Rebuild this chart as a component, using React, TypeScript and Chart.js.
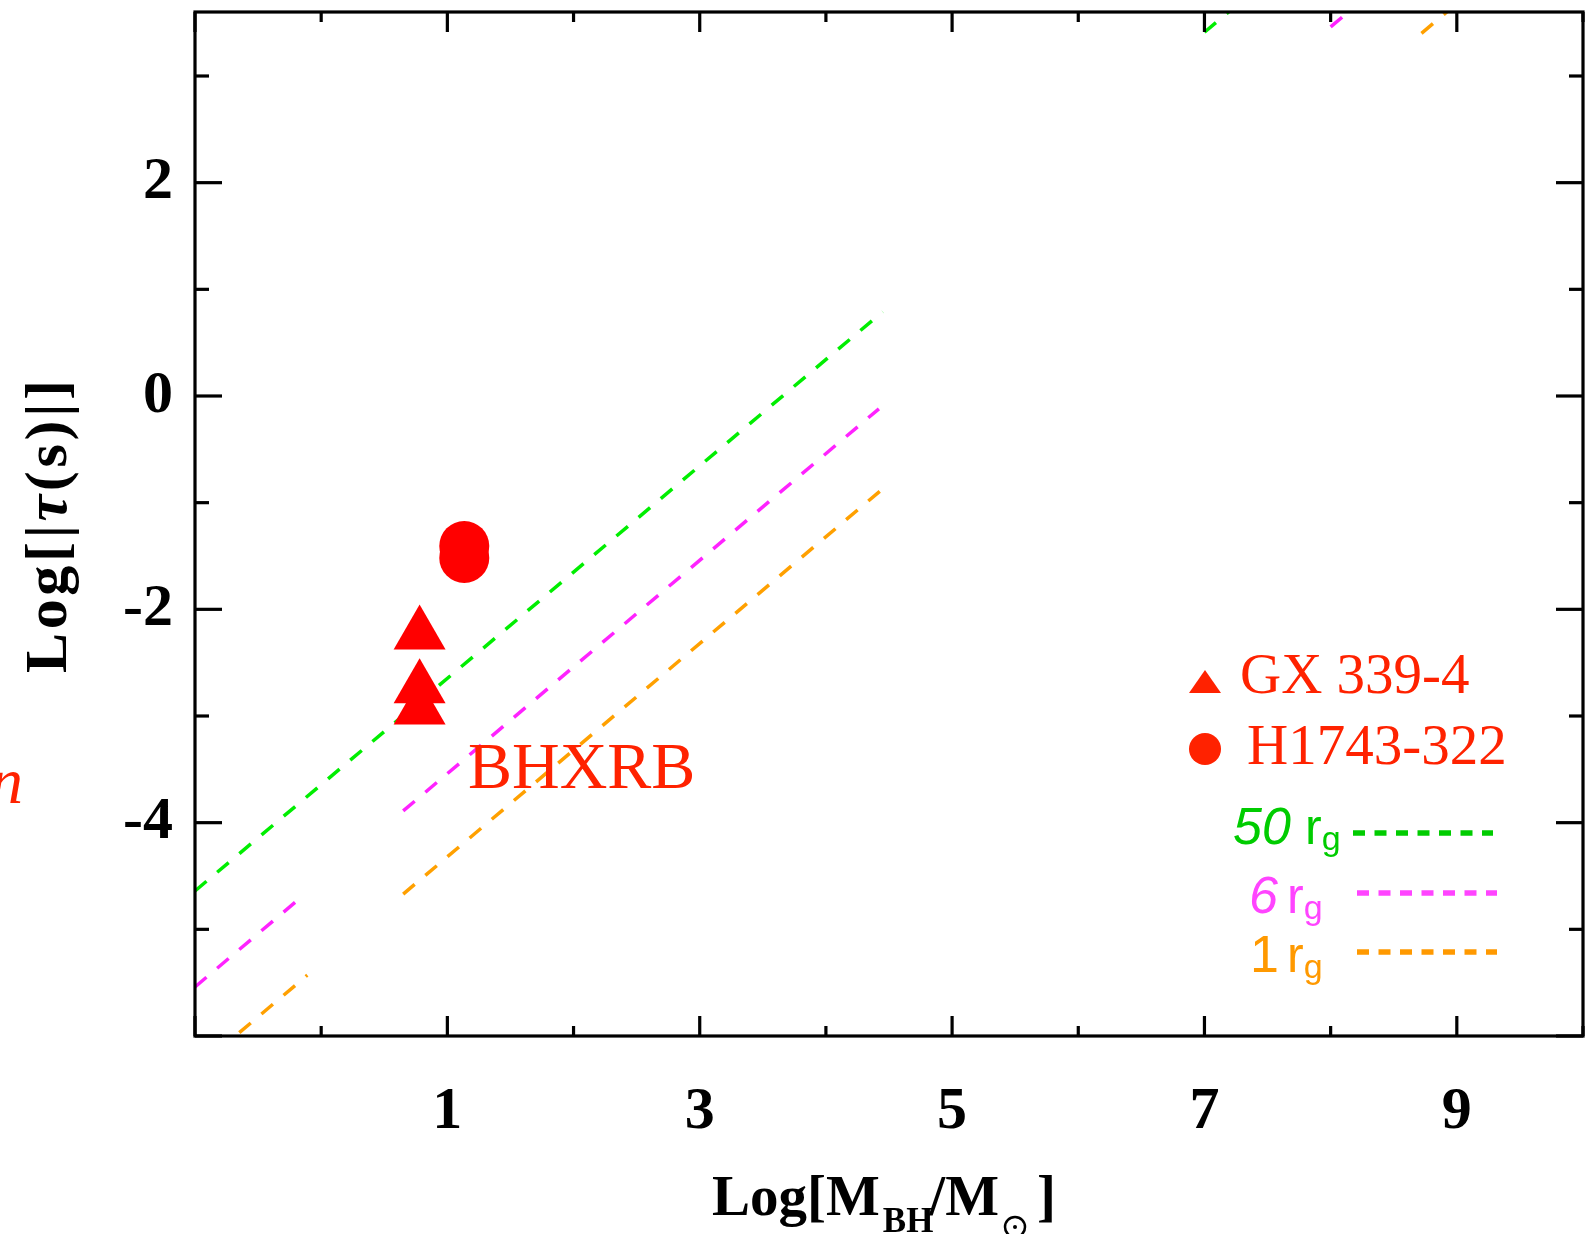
import { useEffect, useRef } from "react";
import { Chart, registerables } from "chart.js";

Chart.register(...registerables);

// Axis ranges and labelled ticks
const xRange = [-1, 10];
const yRange = [-6, 3.6];
const xTickLabels = [1, 3, 5, 7, 9];
const yTickLabels = [2, 0, -2, -4];

// GX 339-4 (triangles)
const gxMass = [0.78, 0.78, 0.78];
const gxTau = [-2.235, -2.74, -2.94];

// H1743-322 (circles)
const hMass = [1.134, 1.134];
const hTau = [-1.406, -1.518];

// Light-crossing time lines for 50, 6 and 1 gravitational radii (null = gap)
const rg50Mass = [-1, 4.45, 5.7, 7.0, 7.3];
const rg50Tau = [-4.64, 0.79, null, 3.41, 3.71];
const rg6Mass = [-1, -0.2, 0.2, 0.65, 4.42, 6.2, 8.0, 8.3];
const rg6Tau = [-5.54, -4.74, null, -3.89, -0.12, null, 3.46, 3.76];
const rg1Mass = [-1, -0.11, 0.3, 0.65, 4.45, 6.6, 8.72, 9.02];
const rg1Tau = [-6.32, -5.43, null, -4.67, -0.87, null, 3.4, 3.7];

const SERIF = '"Liberation Serif", "Times New Roman", serif';
const SANS = '"Liberation Sans", Arial, sans-serif';
const RED_TEXT = "#ff2200";
const GREEN = "#00ee00";
const MAGENTA = "#ff22ff";
const ORANGE = "#ffa000";

const zip = (xs: number[], ys: (number | null)[]) => xs.map((x, i) => ({ x, y: ys[i] }));

const framePlugin = {
  id: "frameTicks",
  afterDatasetsDraw(chart: any) {
    const { ctx, chartArea: a, scales } = chart;
    const xs = scales.x;
    const ys = scales.y;
    ctx.save();
    ctx.strokeStyle = "#000";
    ctx.lineWidth = 3.2;
    ctx.lineCap = "butt";
    const seg = (x1: number, y1: number, x2: number, y2: number) => {
      ctx.beginPath();
      ctx.moveTo(x1, y1);
      ctx.lineTo(x2, y2);
      ctx.stroke();
    };
    for (let v = Math.ceil(xRange[0]); v <= xRange[1]; v++) {
      const px = xs.getPixelForValue(v);
      const len = Math.abs(v) % 2 === 1 ? 20 : 10;
      seg(px, a.bottom, px, a.bottom - len);
      seg(px, a.top, px, a.top + len);
    }
    for (let v = Math.ceil(yRange[0]); v <= Math.floor(yRange[1]); v++) {
      const py = ys.getPixelForValue(v);
      const len = Math.abs(v) % 2 === 0 ? 27 : 14;
      seg(a.left, py, a.left + len, py);
      seg(a.right, py, a.right - len, py);
    }
    ctx.strokeRect(a.left, a.top, a.right - a.left, a.bottom - a.top);
    ctx.restore();
  },
};

const textPlugin = {
  id: "annotations",
  afterDraw(chart: any) {
    const { ctx } = chart;
    ctx.save();
    ctx.textAlign = "left";
    ctx.textBaseline = "alphabetic";

    // y-axis title, rotated, with loose letter spacing
    {
      const parts: [string, string][] = [
        ["L", `bold 60px ${SERIF}`],
        ["o", `bold 60px ${SERIF}`],
        ["g", `bold 60px ${SERIF}`],
        ["[", `bold 60px ${SERIF}`],
        ["|", `bold 60px ${SERIF}`],
        ["τ", `italic bold 60px ${SERIF}`],
        ["(", `bold 60px ${SERIF}`],
        ["s", `bold 60px ${SERIF}`],
        [")", `bold 60px ${SERIF}`],
        ["|", `bold 60px ${SERIF}`],
        ["]", `bold 60px ${SERIF}`],
      ];
      let natural = 0;
      for (const [ch, f] of parts) {
        ctx.font = f;
        natural += ctx.measureText(ch).width;
      }
      const total = 293;
      const ls = Math.max(0, (total - natural) / (parts.length - 1));
      ctx.save();
      ctx.translate(66, 673);
      ctx.rotate(-Math.PI / 2);
      ctx.fillStyle = "#000";
      let cx = 0;
      for (const [ch, f] of parts) {
        ctx.font = f;
        ctx.fillText(ch, cx, 0);
        cx += ctx.measureText(ch).width + ls;
      }
      ctx.restore();
    }

    // x-axis title: Log[M_BH/M_sun]
    {
      ctx.fillStyle = "#000";
      let cx = 712;
      const base = 1215;
      ctx.font = `bold 57px ${SERIF}`;
      ctx.fillText("Log[M", cx, base);
      cx += ctx.measureText("Log[M").width + 3;
      ctx.font = `bold 35px ${SERIF}`;
      ctx.fillText("BH", cx, base + 17);
      cx += ctx.measureText("BH").width - 4;
      ctx.font = `bold 57px ${SERIF}`;
      ctx.fillText("/M", cx, base);
      cx += ctx.measureText("/M").width + 6;
      // solar symbol as subscript
      ctx.strokeStyle = "#000";
      ctx.lineWidth = 2.5;
      ctx.beginPath();
      ctx.arc(cx + 10, base + 12, 10, 0, Math.PI * 2);
      ctx.stroke();
      ctx.beginPath();
      ctx.arc(cx + 10, base + 12, 2, 0, Math.PI * 2);
      ctx.fill();
      cx += 32;
      ctx.font = `bold 57px ${SERIF}`;
      ctx.fillText("]", cx, base);
    }

    // region label
    ctx.fillStyle = RED_TEXT;
    ctx.font = `66px ${SERIF}`;
    ctx.fillText("BHXRB", 468, 788);

    // partially visible letter at the left edge
    ctx.font = `italic 66px ${SERIF}`;
    ctx.textAlign = "right";
    ctx.fillText("n", 23, 803);
    ctx.textAlign = "left";

    // legend: sources
    ctx.fillStyle = RED_TEXT;
    ctx.beginPath();
    ctx.moveTo(1205, 670);
    ctx.lineTo(1189, 693);
    ctx.lineTo(1221, 693);
    ctx.closePath();
    ctx.fill();
    ctx.font = `57px ${SERIF}`;
    ctx.fillText("GX 339-4", 1240, 693);

    ctx.beginPath();
    ctx.arc(1205, 749, 16, 0, Math.PI * 2);
    ctx.fill();
    ctx.fillText("H1743-322", 1247, 764);

    // legend: radii
    const rgEntry = (
      num: string,
      italic: boolean,
      color: string,
      numX: number,
      rX: number,
      base: number,
      dashX0: number,
      dashX1: number,
      dashY: number
    ) => {
      ctx.fillStyle = color;
      ctx.font = `${italic ? "italic " : ""}52px ${SANS}`;
      ctx.fillText(num, numX, base);
      ctx.font = `50px ${SANS}`;
      ctx.fillText("r", rX, base);
      const rw = ctx.measureText("r").width;
      ctx.font = `34px ${SANS}`;
      ctx.fillText("g", rX + rw, base + 6);
      ctx.save();
      ctx.strokeStyle = color;
      ctx.lineWidth = 5.5;
      ctx.setLineDash([12, 9.5]);
      ctx.beginPath();
      ctx.moveTo(dashX0, dashY);
      ctx.lineTo(dashX1, dashY);
      ctx.stroke();
      ctx.restore();
    };
    rgEntry("50", true, "#00cc00", 1233, 1305, 844, 1353, 1493, 833);
    rgEntry("6", true, "#ff44ff", 1249, 1287, 913, 1357, 1497, 893);
    rgEntry("1", false, "#ff9900", 1250, 1287, 972, 1357, 1497, 952);

    ctx.restore();
  },
};

// Pin the axis box sizes so the plot frame lands at fixed edges
const pinScale = (size: { width?: number; height?: number }) => (s: any) => {
  if (size.width !== undefined) s.width = size.width;
  if (size.height !== undefined) s.height = size.height;
  s.paddingTop = 0;
  s.paddingBottom = 0;
  s.paddingLeft = 0;
  s.paddingRight = 0;
};

export default function App() {
  const ref = useRef<HTMLCanvasElement | null>(null);

  useEffect(() => {
    if (!ref.current) return;
    const lineDs = (label: string, xs: number[], ys: (number | null)[], color: string) => ({
      type: "scatter" as const,
      label,
      data: zip(xs, ys),
      showLine: true,
      spanGaps: false,
      borderColor: color,
      backgroundColor: color,
      borderWidth: 3.5,
      borderDash: [15, 14],
      pointRadius: 0,
      pointHoverRadius: 0,
    });
    const chart = new Chart(ref.current, {
      type: "scatter",
      data: {
        datasets: [
          {
            label: "GX 339-4",
            data: zip(gxMass, gxTau),
            pointStyle: "triangle",
            pointRadius: 30,
            backgroundColor: "#ff0000",
            borderWidth: 0,
          },
          {
            label: "H1743-322",
            data: zip(hMass, hTau),
            pointStyle: "circle",
            pointRadius: 25,
            backgroundColor: "#ff0000",
            borderWidth: 0,
          },
          lineDs("50 rg", rg50Mass, rg50Tau, GREEN),
          lineDs("6 rg", rg6Mass, rg6Tau, MAGENTA),
          lineDs("1 rg", rg1Mass, rg1Tau, ORANGE),
        ] as any,
      },
      options: {
        responsive: false,
        animation: false,
        devicePixelRatio: 1,
        layout: { autoPadding: false, padding: { top: 12, right: 3, left: 0, bottom: 0 } },
        plugins: {
          legend: { display: false },
          tooltip: { enabled: false },
        },
        events: [],
        scales: {
          x: {
            type: "linear",
            min: xRange[0],
            max: xRange[1],
            grid: { display: false, drawTicks: false },
            border: { display: false },
            afterFit: pinScale({ height: 198 }),
            ticks: {
              stepSize: 1,
              padding: 40,
              autoSkip: false,
              maxRotation: 0,
              color: "#000",
              font: { family: SERIF, size: 60, weight: "bold" },
              callback: (v: any) => (xTickLabels.includes(Number(v)) ? String(v) : ""),
            },
          },
          y: {
            type: "linear",
            min: yRange[0],
            max: yRange[1],
            grid: { display: false, drawTicks: false },
            border: { display: false },
            afterFit: pinScale({ width: 195 }),
            ticks: {
              stepSize: 1,
              padding: 22,
              autoSkip: false,
              color: "#000",
              font: { family: SERIF, size: 60, weight: "bold" },
              callback: (v: any) => (yTickLabels.includes(Number(v)) ? String(v) : ""),
            },
          },
        },
      },
      plugins: [framePlugin, textPlugin],
    });
    return () => chart.destroy();
  }, []);

  return (
    <canvas
      ref={ref}
      width={1586}
      height={1234}
      style={{ position: "absolute", left: 0, top: 0, display: "block", background: "#fff" }}
    />
  );
}
